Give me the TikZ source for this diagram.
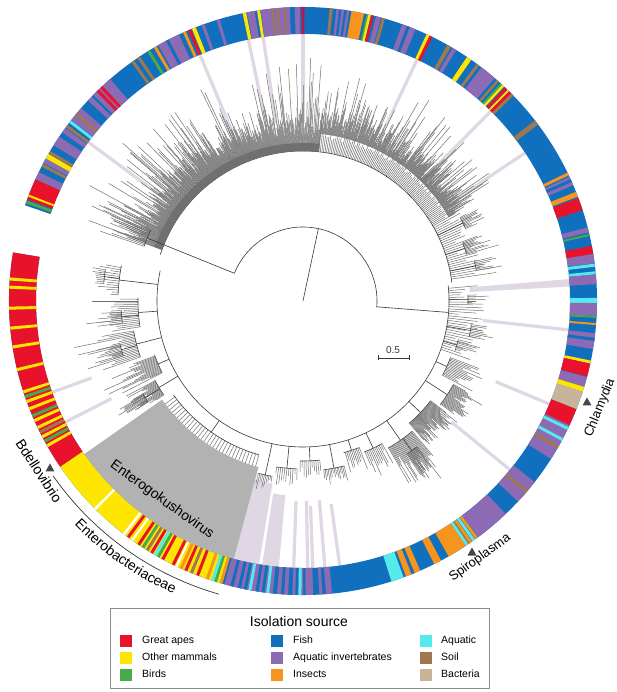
\documentclass[tikz,border=0pt]{standalone}
\usepackage{fontspec}
\setmainfont{Liberation Sans}
\usetikzlibrary{decorations.text}
\definecolor{cApe}{RGB}{232,19,43}
\definecolor{cMam}{RGB}{255,230,0}
\definecolor{cBird}{RGB}{72,170,72}
\definecolor{cFish}{RGB}{16,112,190}
\definecolor{cInv}{RGB}{140,106,180}
\definecolor{cIns}{RGB}{246,148,30}
\definecolor{cAqu}{RGB}{85,235,235}
\definecolor{cSoil}{RGB}{160,120,80}
\definecolor{cBac}{RGB}{200,180,155}
\definecolor{cMag}{RGB}{190,20,80}
\definecolor{band}{RGB}{224,215,228}
\definecolor{wedgeC}{RGB}{178,178,178}
\definecolor{leaf}{RGB}{112,112,112}
\definecolor{inner}{RGB}{55,55,55}
\definecolor{triC}{RGB}{70,70,70}
\definecolor{boxC}{RGB}{140,140,140}
\newcommand\Rin{267}
\newcommand\Rout{294}
\newcommand\RS[3]{\fill[#3] (#1:\Rin) arc[start angle=#1,end angle=#2,radius=\Rin] -- (#2:\Rout) arc[start angle=#2,end angle=#1,radius=\Rout] -- cycle;}
\newcommand\STW[3]{\pgfmathsetmacro\stA{#1-#2/2}\pgfmathsetmacro\stB{#1+#2/2}\RS{\stA}{\stB}{#3}}
\newcommand\ST[2]{\STW{#1}{0.6}{#2}}
\newcommand\bandln[3]{\draw[bandline] (#1:#2) -- (#1:#3);}
\newcommand\bandsec[4]{\fill[band] (#1:#3) arc[start angle=#1,end angle=#2,radius=#3] -- (#2:#4) arc[start angle=#2,end angle=#1,radius=#4] -- cycle;}
\newcommand\leaves[7]{%
  \pgfmathsetmacro\lsec{#1+#3}%
  \foreach \ang in {#1,\lsec,...,#2}{%
    \pgfmathsetmacro\lend{#4+#5+#6*rnd+#7*pow(rnd,5)}%
    \draw[leafline] (\ang:#4) -- (\ang:\lend);}%
}
\newcommand\clade[8]{%
  \pgfmathsetmacro\cmid{(#1+#2)/2}%
  \draw[innerline] (\cmid:#3) -- (\cmid:#4);%
  \draw[innerline] (#1:#4) arc[start angle=#1,end angle=#2,radius=#4];%
  \leaves{#1}{#2}{#5}{#4}{#6}{#7}{#8}%
}
\newcommand\tri[2]{\fill[triC] (#1,#2) ++(-4.5,-3.5) -- ++(9,0) -- ++(-4.5,8) -- cycle;}
\begin{document}
\begin{tikzpicture}[x=1pt,y=1pt,
  leafline/.style={draw=leaf, line width=0.5pt},
  innerline/.style={draw=inner, line width=0.6pt},
  bandline/.style={draw=band, line width=3.2pt},
  lab/.style={font=\fontsize{14}{16}\selectfont, text=black, inner sep=0pt},
  legsq/.style={minimum size=12pt, inner sep=0pt, draw=none},
  legtxt/.style={anchor=west, inner sep=0pt, font=\fontsize{10.5}{12}\selectfont, text height=7.5pt, text depth=2pt}]
\pgfmathsetseed{7}
\fill[white] (-303,-391) rectangle (314,301);
\useasboundingbox (-303,-391) rectangle (314,301);
% ---------- lavender highlight bands
\bandln{143.5}{173}{267}
\bandln{112.7}{167}{267}
\bandln{101.8}{178}{267}
\bandln{98.6}{180}{267}
\bandln{90}{178}{267}
\bandln{64.7}{178}{267}
\bandln{45.3}{175}{267}
\bandln{33.7}{178}{267}
\bandsec{3.1}{4.7}{167}{267}
\bandln{-6.2}{181}{267}
\bandln{-22.7}{209}{267}
\bandln{-39.2}{191}{267}
\bandsec{-105}{-99.5}{185}{267}
\bandsec{-98.8}{-95.2}{195}{267}
\bandln{-92}{200}{267}
\bandln{-89}{200}{267}
\bandln{-87.9}{205}{267}
\bandln{-85.3}{200}{267}
\bandln{-82.1}{205}{267}
\bandln{-160}{225}{267}
\bandln{-153}{215}{267}
% ---------- Enterogokushovirus wedge
\fill[wedgeC] (-145:172) arc[start angle=-145,end angle=-105,radius=172] -- (-105:267) arc[start angle=-105,end angle=-145,radius=267] -- cycle;
% ---------- tree backbone
\draw[innerline] (0,0) -- (78:74);
\draw[innerline] (-5:74) arc[start angle=-5,end angle=158,radius=74];
\draw[innerline] (158:74) -- (158:150);
\draw[innerline] (-4.5:74) -- (-4.5:146);
\draw[innerline] (162:150) arc[start angle=162,end angle=7,radius=150];
\draw[innerline] (6:146) arc[start angle=6,end angle=-192,radius=146];
% ---------- top subtree
\fill[leaf] (160:150) arc[start angle=160,end angle=84,radius=150] -- (84:158) arc[start angle=84,end angle=160,radius=158] -- cycle;
\leaves{160}{84}{-0.2}{150}{14}{24}{60}
\clade{161}{155}{150}{168}{-0.5}{8}{40}{20}
\leaves{84}{30}{-0.6}{150}{14}{6}{0}
\leaves{84}{30}{-0.18}{168}{2}{24}{45}
\leaves{30}{8}{-0.8}{150}{10}{25}{20}
\clade{28}{24}{150}{178}{-0.4}{4}{20}{10}
\clade{20}{16}{150}{170}{-0.4}{5}{25}{5}
\clade{13}{10}{150}{176}{-0.5}{4}{18}{5}
% ---------- bottom subtree
\leaves{5}{-20}{-0.9}{146}{8}{30}{15}
\clade{2}{-1}{146}{165}{-0.5}{4}{15}{5}
\clade{-8}{-12}{146}{170}{-0.5}{5}{20}{5}
\clade{-14}{-18}{146}{160}{-0.6}{5}{20}{5}
\clade{-21}{-28}{146}{158}{-0.5}{10}{25}{15}
\clade{-29}{-37}{146}{172}{-0.3}{8}{20}{10}
\clade{-38}{-49}{146}{162}{-0.25}{12}{18}{10}
\clade{-50}{-60}{146}{170}{-0.35}{10}{35}{15}
\clade{-52}{-56}{170}{185}{-0.3}{5}{25}{10}
\clade{-61}{-68}{146}{163}{-0.6}{6}{18}{8}
\clade{-69}{-75}{146}{157}{-0.6}{6}{14}{5}
\clade{-76}{-83}{146}{170}{-0.5}{4}{12}{5}
\clade{-84}{-91}{146}{160}{-0.7}{6}{14}{5}
\clade{-92}{-99}{146}{168}{-0.7}{5}{12}{5}
\clade{-100}{-104.5}{146}{178}{-0.5}{4}{10}{3}
\draw[innerline] (-125:146) -- (-125:160);
\draw[innerline] (-106:160) arc[start angle=-106,end angle=-144,radius=160];
\leaves{-106}{-144}{-1.2}{160}{12}{0}{0}
\clade{-146}{-152}{146}{168}{-0.3}{5}{20}{30}
\clade{-147}{-150}{168}{185}{-0.3}{5}{20}{20}
\clade{-153}{-160}{146}{158}{-0.35}{10}{25}{40}
\clade{-161}{-170}{146}{172}{-0.5}{8}{25}{35}
\clade{-163}{-167}{172}{188}{-0.4}{5}{20}{20}
\clade{-171}{-181}{146}{165}{-0.6}{10}{20}{25}
\clade{-173}{-177}{165}{182}{-0.5}{5}{20}{15}
\clade{-182}{-191}{146}{185}{-0.7}{5}{15}{10}
\clade{-185}{-189}{185}{200}{-0.5}{3}{12}{5}
% ---------- colour ring
\RS{161}{-189.5}{cFish}
\ST{160.3}{cBird}
\RS{155.5}{159.8}{cApe}
\STW{159.0}{0.4}{cMam}
\RS{154}{155.5}{cInv}
\ST{152.5}{cSoil}
\RS{151}{152}{cInv}
\STW{150.5}{1.0}{cMam}
\ST{149.6}{cSoil}
\RS{146}{148}{cInv}
\RS{144}{145}{cInv}
\ST{143.5}{cSoil}
\ST{142.4}{cAqu}
\RS{139}{142}{cInv}
\ST{140.5}{cSoil}
\RS{136}{137}{cInv}
\RS{131}{135.5}{cInv}
\ST{134.3}{cApe}
\ST{133.3}{cApe}
\ST{125.4}{cSoil}
\ST{124}{cSoil}
\ST{121.7}{cBird}
\ST{120.2}{cIns}
\RS{115}{119.5}{cInv}
\ST{117.5}{cFish}
\ST{113.8}{cIns}
\ST{112.7}{cApe}
\STW{111.8}{0.8}{cMam}
\ST{109.9}{cInv}
\ST{106.8}{cInv}
\STW{101.5}{0.7}{cMam}
\RS{99.5}{101}{cInv}
\ST{98.7}{cMam}
\RS{92.6}{98.3}{cInv}
\STW{96}{0.4}{cSoil}
\STW{95}{0.4}{cSoil}
\STW{93.6}{0.4}{cSoil}
\RS{90.6}{91.6}{cInv}
\STW{90}{0.6}{cMag}
\ST{84.5}{cSoil}
\STW{83.2}{0.5}{cInv}
\STW{82.2}{0.5}{cInv}
\STW{81.2}{0.5}{cInv}
\RS{78}{80.5}{cIns}
\STW{77.3}{0.4}{cBird}
\STW{76.9}{0.5}{cMam}
\STW{76.3}{0.5}{cApe}
\RS{74.6}{75.6}{cInv}
\ST{74.1}{cSoil}
\RS{67.5}{70.3}{cInv}
\ST{69}{cFish}
\STW{64.8}{0.7}{cMam}
\ST{64.2}{cApe}
\STW{60.2}{0.8}{cSoil}
\STW{59}{0.8}{cInv}
\STW{55.6}{1.0}{cMam}
\ST{53.5}{cSoil}
\RS{49.3}{52.6}{cInv}
\STW{48.5}{0.5}{cSoil}
\STW{47.6}{0.4}{cBird}
\STW{47.1}{0.5}{cMam}
\STW{46.3}{0.6}{cApe}
\STW{45.7}{0.4}{cMam}
\STW{45.2}{0.6}{cApe}
\ST{44.6}{cSoil}
\STW{37.4}{1.0}{cSoil}
\ST{25.6}{cIns}
\RS{23.2}{25}{cInv}
\ST{24.2}{cFish}
\RS{20.8}{21.8}{cIns}
\RS{18}{20.5}{cApe}
\RS{13.5}{14.5}{cInv}
\STW{13}{0.4}{cBird}
\RS{9.2}{10.8}{cApe}
\RS{7.4}{9.2}{cInv}
\ST{7}{cAqu}
\ST{5.5}{cAqu}
\RS{3.3}{5.2}{cInv}
\RS{-0.4}{0.6}{cAqu}
\RS{-2.9}{-0.4}{cInv}
\STW{-3.1}{0.4}{cBird}
\STW{-4.5}{0.4}{cIns}
\RS{-9.4}{-6.3}{cInv}
\ST{-7.5}{cFish}
\RS{-12.3}{-11.7}{cMam}
\RS{-14.9}{-12.3}{cApe}
\RS{-17}{-15}{cInv}
\RS{-18}{-17}{cMam}
\RS{-21.6}{-18}{cBac}
\RS{-25}{-21.6}{cApe}
\RS{-32.5}{-25}{cInv}
\ST{-25.7}{cAqu}
\ST{-28.1}{cAqu}
\ST{-29.8}{cSoil}
\RS{-43}{-38}{cInv}
\ST{-40.5}{cSoil}
\RS{-53.4}{-46.4}{cInv}
\ST{-53.8}{cIns}
\ST{-54.5}{cAqu}
\ST{-55.2}{cIns}
\STW{-55.7}{0.4}{cSoil}
\ST{-56.1}{cAqu}
\ST{-56.7}{cIns}
\RS{-60.3}{-57}{cIns}
\RS{-63.5}{-62}{cIns}
\RS{-69.5}{-66.5}{cIns}
\ST{-68}{cFish}
\RS{-72.5}{-70}{cAqu}
\RS{-85.5}{-84.3}{cInv}
\ST{-86.5}{cInv}
\RS{-89.5}{-88}{cInv}
\RS{-105.5}{-90}{cInv}
\ST{-104}{cFish}
\ST{-102.5}{cFish}
\ST{-101.3}{cFish}
\ST{-99}{cFish}
\ST{-97.8}{cFish}
\STW{-95.5}{0.8}{cFish}
\ST{-94}{cFish}
\STW{-92.5}{0.8}{cFish}
\ST{-91.2}{cFish}
\ST{-100.4}{cAqu}
\ST{-96.9}{cAqu}
\ST{-90.6}{cAqu}
\STW{-106.2}{0.6}{cIns}
\RS{-145.7}{-106.5}{cMam}
\ST{-107.3}{cBird}
\ST{-107.9}{cAqu}
\ST{-109}{cIns}
\ST{-111}{cApe}
\ST{-112.3}{cSoil}
\ST{-113.5}{cApe}
\ST{-114.5}{cIns}
\STW{-115.5}{0.4}{white}
\ST{-116.2}{cApe}
\ST{-118.5}{cApe}
\ST{-119.5}{cBird}
\ST{-120.2}{cAqu}
\ST{-121}{cApe}
\ST{-122}{cSoil}
\ST{-123}{cBird}
\ST{-124}{cApe}
\STW{-125.5}{0.4}{white}
\ST{-126.5}{cApe}
\STW{-127.5}{0.5}{white}
\STW{-135}{0.5}{white}
\RS{-189.5}{-145.7}{cApe}
\ST{-150.5}{cMam}
\ST{-151.5}{cBird}
\ST{-152.5}{cMam}
\ST{-153.5}{cSoil}
\ST{-154.5}{cMam}
\ST{-156}{cMam}
\ST{-157}{cBird}
\ST{-158.5}{cMam}
\ST{-160}{cMam}
\ST{-161}{cBird}
\ST{-162}{cMam}
\ST{-166.5}{cMam}
\ST{-171}{cMam}
\ST{-174.7}{cMam}
\ST{-178.6}{cMam}
\ST{-182.7}{cMam}
\ST{-184.3}{cMam}
% ---------- labels
\node[lab, rotate=-35.7] (entgk) at (-141,-199) {Enterogokushovirus};
\node[lab, rotate=68, font=\fontsize{13}{15}\selectfont] (chl) at (297,-107) {Chlamydia};
\node[lab, rotate=36, font=\fontsize{13}{15}\selectfont] (spi) at (177,-257) {Spiroplasma};
\node[lab, rotate=-57] (bde) at (-264,-170) {Bdellovibrio};
\tri{284}{-101}
\tri{169}{-251}
\tri{-253}{-167}
\draw[draw=inner, line width=0.7pt] (-145:305) arc[start angle=-145,end angle=-106,radius=305];
\path[decorate, decoration={text along path, text align=center,
  text={|\fontsize{14}{16}\selectfont|Enterobacteriaceae}}]
  (-137.5:320) arc[start angle=-137.5,end angle=-112,radius=320];
% ---------- scale bar
\draw[draw=inner, line width=0.7pt] (75,-57) -- (106,-57);
\draw[draw=inner, line width=0.7pt] (75,-54.5) -- (75,-59.5);
\draw[draw=inner, line width=0.7pt] (106,-54.5) -- (106,-59.5);
\node[font=\fontsize{10}{12}\selectfont, text=inner, inner sep=0pt] (sb) at (90,-49) {0.5};
% ---------- legend
\draw[draw=boxC, line width=0.8pt] (-193,-307) rectangle (186,-387);
\node[font=\fontsize{14}{16}\selectfont, inner sep=0pt] (lt) at (-4,-320) {Isolation source};
\node[legsq, fill=cApe]  (s1) at (-177,-339.7) {};
\node[legsq, fill=cMam]  (s2) at (-177,-356.7) {};
\node[legsq, fill=cBird] (s3) at (-177,-374) {};
\node[legsq, fill=cFish] (s4) at (-26.5,-339.7) {};
\node[legsq, fill=cInv]  (s5) at (-26.5,-356.7) {};
\node[legsq, fill=cIns]  (s6) at (-26.5,-374) {};
\node[legsq, fill=cAqu]  (s7) at (123,-339.7) {};
\node[legsq, fill=cSoil] (s8) at (123,-356.7) {};
\node[legsq, fill=cBac]  (s9) at (123,-374) {};
\node[legtxt] (t1) at (-161,-339.7) {Great apes};
\node[legtxt] (t2) at (-161,-356.7) {Other mammals};
\node[legtxt] (t3) at (-161,-374) {Birds};
\node[legtxt] (t4) at (-10,-339.7) {Fish};
\node[legtxt] (t5) at (-10,-356.7) {Aquatic invertebrates};
\node[legtxt] (t6) at (-10,-374) {Insects};
\node[legtxt] (t7) at (138,-339.7) {Aquatic};
\node[legtxt] (t8) at (138,-356.7) {Soil};
\node[legtxt] (t9) at (138,-374) {Bacteria};
\end{tikzpicture}
\end{document}
